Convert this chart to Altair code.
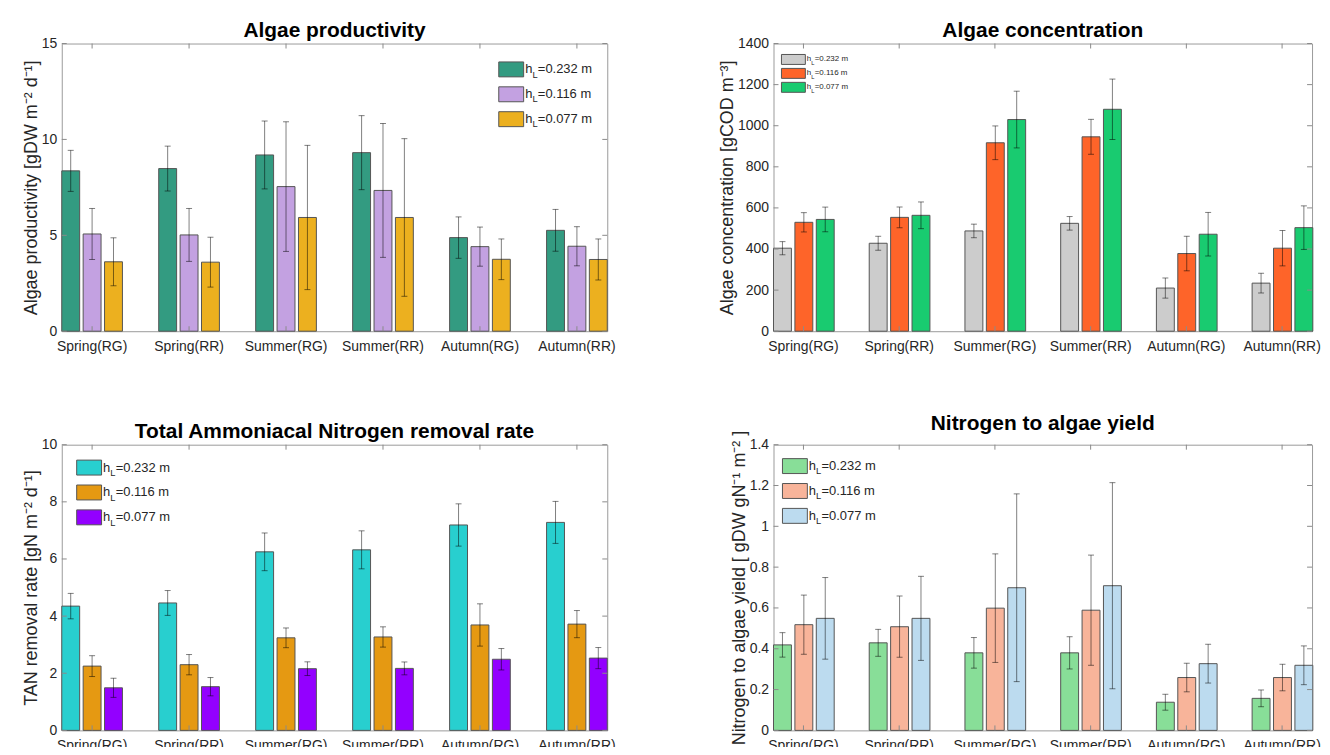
import altair as alt
import pandas as pd

FONT = "Liberation Sans"
TXT = "#262626"

groups = ["Spring(RG)", "Spring(RR)", "Summer(RG)", "Summer(RR)", "Autumn(RG)", "Autumn(RR)"]
depths = ["0.232", "0.116", "0.077"]
series = ["hL=" + d + " m" for d in depths]

# Algae productivity [gDW m-2 d-1]
prod_mean = [
    [8.36, 8.48, 9.19, 9.31, 4.88, 5.26],
    [5.07, 5.02, 7.54, 7.34, 4.41, 4.43],
    [3.62, 3.60, 5.93, 5.93, 3.75, 3.74],
]
prod_err = [
    [1.07, 1.17, 1.77, 1.93, 1.08, 1.09],
    [1.33, 1.38, 3.38, 3.49, 1.02, 1.02],
    [1.25, 1.30, 3.76, 4.11, 1.06, 1.07],
]
prod_ticks = [0, 5, 10, 15]

# Algae concentration [gCOD m-3]
conc_mean = [
    [404, 428, 488, 525, 210, 234],
    [530, 554, 917, 946, 378, 404],
    [544, 564, 1030, 1080, 472, 504],
]
conc_err = [
    [32, 34, 33, 33, 49, 48],
    [47, 50, 82, 85, 84, 86],
    [60, 65, 138, 147, 106, 106],
]
conc_ticks = [0, 200, 400, 600, 800, 1000, 1200, 1400]

# TAN removal rate [gN m-2 d-1]
tan_mean = [
    [4.35, 4.46, 6.25, 6.32, 7.19, 7.28],
    [2.25, 2.30, 3.24, 3.27, 3.69, 3.72],
    [1.49, 1.53, 2.16, 2.17, 2.49, 2.53],
]
tan_err = [
    [0.445, 0.435, 0.66, 0.665, 0.74, 0.735],
    [0.365, 0.355, 0.345, 0.355, 0.74, 0.475],
    [0.335, 0.32, 0.24, 0.225, 0.375, 0.37],
]
tan_ticks = [0, 2, 4, 6, 8, 10]

# Nitrogen to algae yield [gDW gN-1 m-2]
yield_mean = [
    [0.419, 0.429, 0.380, 0.380, 0.138, 0.157],
    [0.518, 0.508, 0.599, 0.589, 0.259, 0.259],
    [0.549, 0.549, 0.699, 0.709, 0.327, 0.319],
]
yield_err = [
    [0.060, 0.066, 0.075, 0.079, 0.039, 0.041],
    [0.145, 0.150, 0.266, 0.270, 0.070, 0.065],
    [0.200, 0.206, 0.460, 0.505, 0.095, 0.095],
]
yield_ticks = [0, 0.2, 0.4, 0.6, 0.8, 1.0, 1.2, 1.4]

W_LEFT, W_RIGHT = 548, 541
H_TOP, H_BOT = 289, 287


def make_df(means, errs):
    rows = []
    for si, s in enumerate(series):
        for gi, g in enumerate(groups):
            m = means[si][gi]
            e = errs[si][gi]
            rows.append({"group": g, "series": s, "mean": m, "lo": m - e, "hi": m + e})
    return pd.DataFrame(rows)


def legend_layers(cscale, lx, ly, sw, sh, dy, fs):
    layers = []
    for i, s in enumerate(series):
        cy = ly + i * dy
        sdf = pd.DataFrame({"series": [s], "h": ["h"], "sub": ["L"], "rest": ["=" + depths[i] + " m"]})
        base = alt.Chart(sdf)
        layers.append(base.mark_rect(stroke="#555555", strokeWidth=1).encode(
            x=alt.value(lx), x2=alt.value(lx + sw),
            y=alt.value(cy - sh / 2), y2=alt.value(cy + sh / 2),
            color=alt.Color("series:N", scale=cscale, legend=None)))
        tx = lx + sw + 1.5
        layers.append(base.mark_text(align="left", baseline="middle", font=FONT, fontSize=fs, color=TXT).encode(
            x=alt.value(tx), y=alt.value(cy), text="h:N"))
        layers.append(base.mark_text(align="left", baseline="middle", font=FONT, fontSize=fs * 0.72, color=TXT).encode(
            x=alt.value(tx + fs * 0.56), y=alt.value(cy + fs * 0.4), text="sub:N"))
        layers.append(base.mark_text(align="left", baseline="middle", font=FONT, fontSize=fs, color=TXT).encode(
            x=alt.value(tx + fs * 0.56 + fs * 0.42), y=alt.value(cy), text="rest:N"))
    return layers


def panel(means, errs, ticks, colors, title, ytitle, ymax, leg, W, H):
    df = make_df(means, errs)
    cscale = alt.Scale(domain=series, range=colors)
    x = alt.X("group:N", sort=groups, title=None,
              scale=alt.Scale(paddingInner=0.374, paddingOuter=0),
              axis=alt.Axis(labelAngle=0, ticks=False, domain=False, labelFont=FONT,
                            labelFontSize=14, labelColor=TXT, labelPadding=8))
    xo = alt.XOffset("series:N", sort=series, scale=alt.Scale(paddingInner=0.163, paddingOuter=0))
    ys = alt.Scale(domain=[0, ymax], nice=False, zero=False)
    yax = alt.Axis(values=ticks, format="~r", grid=False, ticks=False, domain=False,
                   labelFont=FONT, labelFontSize=14, labelColor=TXT, labelPadding=5,
                   titleFont=FONT, titleFontSize=18, titleFontWeight="normal",
                   titleColor=TXT, titlePadding=1)

    def Y(field):
        return alt.Y(field, scale=ys, axis=yax, title=ytitle)

    bars = alt.Chart(df).mark_bar(stroke="#555555", strokeWidth=1).encode(
        x=x, xOffset=xo, y=Y("mean:Q"),
        color=alt.Color("series:N", scale=cscale, legend=None))
    err = alt.Chart(df).mark_rule(color="#000000", opacity=0.5, strokeWidth=1).encode(
        x=x, xOffset=xo, y=Y("lo:Q"), y2="hi:Q")
    cap_lo = alt.Chart(df).mark_tick(color="#000000", opacity=0.5, size=6, thickness=1).encode(
        x=x, xOffset=xo, y=Y("lo:Q"))
    cap_hi = alt.Chart(df).mark_tick(color="#000000", opacity=0.5, size=6, thickness=1).encode(
        x=x, xOffset=xo, y=Y("hi:Q"))

    yt = pd.DataFrame({"v": ticks})
    xt = pd.DataFrame({"group": groups})
    tick_col = "#8a8a8a"
    lt = alt.Chart(yt).mark_rule(color=tick_col).encode(y=Y("v:Q"), x=alt.value(0), x2=alt.value(5))
    rt = alt.Chart(yt).mark_rule(color=tick_col).encode(y=Y("v:Q"), x=alt.value(W - 5), x2=alt.value(W))
    bt = alt.Chart(xt).mark_rule(color=tick_col).encode(x=x, y=alt.value(H - 5), y2=alt.value(H))
    tt = alt.Chart(xt).mark_rule(color=tick_col).encode(x=x, y=alt.value(0), y2=alt.value(5))

    layers = [bars, err, cap_lo, cap_hi, lt, rt, bt, tt] + legend_layers(cscale, *leg)
    return alt.layer(*layers).properties(
        width=W, height=H,
        title=alt.TitleParams(title, font=FONT, fontSize=21, fontWeight="bold", color="#000000", offset=-4))


p1 = panel(prod_mean, prod_err, prod_ticks, ["#339b81", "#c3a1e1", "#ecb01f"],
           "Algae productivity", "Algae productivity [gDW m\u207b\u00b2 d\u207b\u00b9]", 15,
           (439, 26, 25, 15, 25, 13), W_LEFT, H_TOP)
p2 = panel(conc_mean, conc_err, conc_ticks, ["#cccccc", "#fe6429", "#19cb70"],
           "Algae concentration", "Algae concentration [gCOD m\u207b\u00b3]", 1400,
           (8, 16, 24, 10, 14, 8), W_RIGHT, H_TOP)
p3 = panel(tan_mean, tan_err, tan_ticks, ["#28cfcf", "#e59912", "#9300ff"],
           "Total Ammoniacal Nitrogen removal rate", "TAN removal rate [gN m\u207b\u00b2 d\u207b\u00b9]", 10,
           (15, 23, 25, 15, 25, 13), W_LEFT, H_BOT)
p4 = panel(yield_mean, yield_err, yield_ticks, ["#88de98", "#f8b49a", "#bcdbef"],
           "Nitrogen to algae yield", "Nitrogen to algae yield [ gDW gN\u207b\u00b9 m\u207b\u00b2 ]", 1.4,
           (9, 21.5, 25, 15, 25, 13), W_RIGHT, H_BOT)

# fixed canvas (1320 x 739); first plot area placed at (54, 34) inside it
chart = alt.concat(p1, p2, p3, p4, columns=2, spacing={"row": 58, "column": 102}).properties(
    autosize=alt.AutoSizeParams(type="none"),
    padding={"left": 54, "top": 34, "right": 1266, "bottom": 705},
    background="white",
).resolve_scale(color="independent").configure_view(stroke="#9a9a9a", strokeWidth=1)

chart.save("out.html", embed_options={"renderer": "svg", "actions": False})
